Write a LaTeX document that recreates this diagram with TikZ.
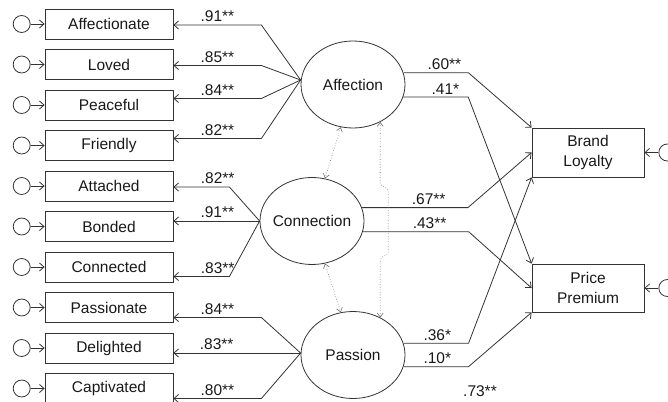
\documentclass[tikz,border=0pt]{standalone}
\usepackage{fontspec}
\setmainfont{Liberation Sans}
\usetikzlibrary{arrows.meta, positioning, shapes.geometric}

\begin{document}
\begin{tikzpicture}[x=1pt, y=-1pt, node distance=9.7pt and 14pt]
  \colorlet{linecol}{black!80}
  \colorlet{corrcol}{black!55}
  \colorlet{textcol}{black!90}

  \tikzset{
    item/.style={
      rectangle, draw=linecol, line width=0.8pt,
      minimum width=128pt, minimum height=30pt, inner sep=0pt,
      font=\fontsize{15.5}{19.5}\selectfont, text=textcol
    },
    outcome/.style={item, minimum width=112pt, minimum height=49pt, align=center},
    latent/.style={
      ellipse, draw=linecol, line width=0.8pt,
      minimum width=104pt, minimum height=87pt, inner sep=0pt,
      font=\fontsize{15.5}{19.5}\selectfont, text=textcol
    },
    err/.style={circle, draw=linecol, line width=0.8pt, minimum size=17pt, inner sep=0pt},
    arr/.style={-{Straight Barb[length=4.5pt, width=8pt]}, line width=0.8pt, color=linecol},
    corr/.style={
      {Straight Barb[length=4pt, width=6pt]}-{Straight Barb[length=4pt, width=6pt]},
      line width=0.6pt, color=corrcol, dotted
    },
    coef/.style={above, inner sep=2.5pt, font=\fontsize{15.5}{19.5}\selectfont, text=textcol}
  }

  \useasboundingbox (0,0) rectangle (668,401);

  % indicator boxes with their error terms
  \node[item] (affectionate) at (109,24) {Affectionate};
  \node[item, below=of affectionate] (loved) {Loved};
  \node[item, below=of loved] (peaceful) {Peaceful};
  \node[item, below=of peaceful] (friendly) {Friendly};
  \node[item, below=of friendly] (attached) {Attached};
  \node[item, below=of attached] (bonded) {Bonded};
  \node[item, below=of bonded] (connected) {Connected};
  \node[item, below=of connected] (passionate) {Passionate};
  \node[item, below=of passionate] (delighted) {Delighted};
  \node[item, below=of delighted] (captivated) {Captivated};

  \node[err, left=of affectionate] (eaffectionate) {};
  \node[err, left=of loved] (eloved) {};
  \node[err, left=of peaceful] (epeaceful) {};
  \node[err, left=of friendly] (efriendly) {};
  \node[err, left=of attached] (eattached) {};
  \node[err, left=of bonded] (ebonded) {};
  \node[err, left=of connected] (econnected) {};
  \node[err, left=of passionate] (epassionate) {};
  \node[err, left=of delighted] (edelighted) {};
  \node[err, left=of captivated] (ecaptivated) {};

  % latent factors and outcomes
  \node[latent] (affection) at (353,84.5) {\makebox[0pt]{Affection}};
  \node[latent] (connection) at (312,221) {\makebox[0pt]{Connection}};
  \node[latent] (passion) at (353,355) {\makebox[0pt]{Passion}};

  \node[outcome] (brand) at (588,152.5) {Brand\\Loyalty};
  \node[outcome, minimum height=48pt] (price) at (588,288) {Price\\Premium};
  \node[err, right=of brand] (ebrand) {};
  \node[err, right=of price] (eprice) {};

  \node[font=\fontsize{15.5}{19.5}\selectfont, text=textcol] (rsq) at (480,391) {.73**};

  \coordinate (affectionin) at ([yshift=4.5pt]affection.west);
  \coordinate (passionin) at ([yshift=2pt]passion.west);

  \draw[arr] (eaffectionate) -- (affectionate);
  \draw[arr] (eloved) -- (loved);
  \draw[arr] (epeaceful) -- (peaceful);
  \draw[arr] (efriendly) -- (friendly);
  \draw[arr] (eattached) -- (attached);
  \draw[arr] (ebonded) -- (bonded);
  \draw[arr] (econnected) -- (connected);
  \draw[arr] (epassionate) -- (passionate);
  \draw[arr] (edelighted) -- (delighted);
  \draw[arr] (ecaptivated) -- (captivated);
  \draw[arr] (ebrand) -- (brand);
  \draw[arr] (eprice) -- (price);

  % loadings
  \draw[arr] (affectionin) -- ([xshift=88pt, yshift=-1pt]affectionate.east) -- node[coef]{.91**} ([yshift=-1pt]affectionate.east);
  \draw[arr] (affectionin) -- ([xshift=88pt, yshift=-1pt]loved.east) -- node[coef]{.85**} ([yshift=-1pt]loved.east);
  \draw[arr] (affectionin) -- ([xshift=88pt, yshift=6.5pt]peaceful.east) -- node[coef]{.84**} ([yshift=6.5pt]peaceful.east);
  \draw[arr] (affectionin) -- ([xshift=88pt, yshift=7pt]friendly.east) -- node[coef]{.82**} ([yshift=7pt]friendly.east);

  \draw[arr] (connection.west) -- ([xshift=56pt, yshift=-1pt]attached.east) -- node[coef, pos=0.21]{.82**} ([yshift=-1pt]attached.east);
  \draw[arr] (connection.west) -- node[coef, pos=0.49]{.91**} (bonded.east |- connection.west);
  \draw[arr] (connection.west) -- ([xshift=56pt, yshift=-9.5pt]connected.east) -- node[coef, pos=0.21]{.83**} ([yshift=-9.5pt]connected.east);

  \draw[arr] (passionin) -- ([xshift=88pt, yshift=-10pt]passionate.east) -- node[coef]{.84**} ([yshift=-10pt]passionate.east);
  \draw[arr] (passionin) -- node[coef, pos=0.66]{.83**} (delighted.east |- passionin);
  \draw[arr] (passionin) -- ([xshift=88pt, yshift=-10pt]captivated.east) -- node[coef]{.80**} ([yshift=-10pt]captivated.east);

  % structural paths
  \draw[arr] (affection.13) -- node[coef, pos=0.63]{.60**} ++(65,0) -- (brand.north west);
  \draw[arr] (affection.-14) -- node[coef, pos=0.65]{.41*} ++(65,0) -- (price.north west);
  \draw[arr] (connection.15) -- node[coef, pos=0.63]{.67**} ++(106,0) -- (brand.west);
  \draw[arr] (connection.-12) -- node[coef, pos=0.63]{.43**} ++(106,0) -- (price.west);
  \draw[arr] (passion.13.5) -- node[coef, pos=0.52]{.36*} ++(65,0) -- (brand.south west);
  \draw[arr] (passion.-13.5) -- node[coef, pos=0.52]{.10*} ++(65,0) -- (price.south west);

  % factor correlations
  \draw[corr] (affection.254) -- (connection.73.5);
  \draw[corr] (connection.287) -- (passion.106);
  \draw[corr, rounded corners=2pt] (affection.-54) -- ++(0,63) -- ++(8,4) -- ++(0,65) -- ++(-8,4) -- (passion.54);
\end{tikzpicture}
\end{document}
